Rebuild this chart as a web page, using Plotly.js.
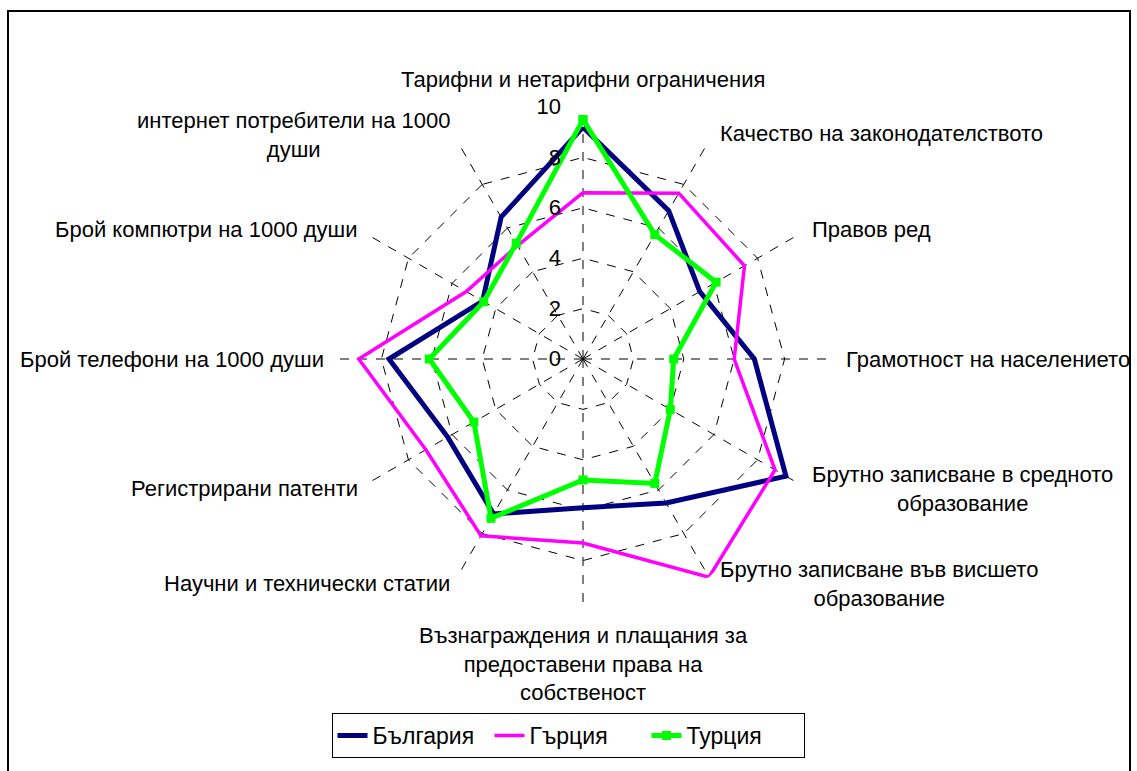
<!DOCTYPE html>
<html>
<head>
<meta charset="utf-8">
<script src="https://cdn.plot.ly/plotly-3.0.1.min.js"></script>
<style>html,body{margin:0;padding:0;background:#fff;}#chart{width:1137px;height:771px;}</style>
</head>
<body>
<div id="chart"></div>
<script>
const categories = [
  "Тарифни и нетарифни ограничения",
  "Качество на законодателството",
  "Правов ред",
  "Грамотност на населението",
  "Брутно записване в средното образование",
  "Брутно записване във висшето образование",
  "Възнаграждения и плащания за предоставени права на собственост",
  "Научни и технически статии",
  "Регистрирани патенти",
  "Брой телефони на 1000 души",
  "Брой компютри на 1000 души",
  "интернет потребители на 1000 души"
];
const tickLabels = [
  "Тарифни и нетарифни ограничения",
  "Качество на законодателството",
  "Правов ред",
  "Грамотност на населението",
  "Брутно записване в средното<br>образование",
  "Брутно записване във висшето<br>образование",
  "Възнаграждения и плащания за<br>предоставени права на<br>собственост",
  "Научни и технически статии",
  "Регистрирани патенти",
  "Брой телефони на 1000 души",
  "Брой компютри на 1000 души",
  "интернет потребители на 1000<br>души"
];
const bulgaria = [9.2, 6.8, 5.35, 6.8, 9.3, 6.6, 5.9, 7.1, 6.2, 7.7, 4.6, 6.5];
const greece   = [6.6, 7.6, 7.4, 6.0, 8.8, 10.0, 7.3, 8.1, 7.2, 8.9, 5.35, 5.2];
const turkey   = [9.5, 5.7, 6.1, 3.6, 4.0, 5.7, 4.8, 7.3, 5.0, 6.1, 4.55, 5.3];
const seriesNames = ["България", "Гърция", "Турция"];
const radialTicks = [0, 2, 4, 6, 8, 10];

const W = 1137, H = 771;
const CX = 583, CY = 359, R = 252;   // polar centre and radius in px
const close = a => a.concat([a[0]]);
const FONT = "Liberation Sans, Arial, sans-serif";

const traces = [
  {type:"scatterpolar", name:seriesNames[0], r:close(bulgaria), theta:close(categories),
   mode:"lines", line:{color:"#000080", width:5}},
  {type:"scatterpolar", name:seriesNames[1], r:close(greece), theta:close(categories),
   mode:"lines", line:{color:"#FF00FF", width:3.5}},
  {type:"scatterpolar", name:seriesNames[2], r:close(turkey), theta:close(categories),
   mode:"lines+markers", line:{color:"#00FF00", width:5},
   marker:{symbol:"square", size:9, color:"#00FF00"}}
];

// category labels placed just outside the outer ring, following the angular axis geometry
const annotations = tickLabels.map((txt, i) => {
  const a = (90 - 360 / categories.length * i) * Math.PI / 180;
  const c = Math.cos(a), s = Math.sin(a);
  const vx = CX + R * c, vy = CY - R * s;
  const ann = {text:txt, showarrow:false, xref:"paper", yref:"paper", align:"center",
               font:{family:FONT, size:22, color:"#000"}};
  let px, py;
  if (Math.abs(c) < 0.01) {
    px = vx; ann.xanchor = "center";
    if (s > 0) { py = vy - 13; ann.yanchor = "bottom"; }
    else { py = vy + 10; ann.yanchor = "top"; }
  } else if (c > 0) {
    px = vx + 9; ann.xanchor = "left"; py = vy - 8 * s; ann.yanchor = "middle";
  } else {
    px = vx - 5; ann.xanchor = "right"; py = vy - 7 * s; ann.yanchor = "middle";
  }
  ann.x = px / W; ann.y = 1 - py / H;
  return ann;
});

const layout = {
  width:W, height:H,
  margin:{l:0, r:0, t:0, b:0},
  paper_bgcolor:"#fff",
  font:{family:FONT, size:20, color:"#000"},
  showlegend:true,
  legend:{orientation:"h", x:568/W, xanchor:"center", y:1 - 713/H, yanchor:"top",
          bordercolor:"#000", borderwidth:1, font:{size:23, family:FONT},
          bgcolor:"#fff", entrywidth:112, entrywidthmode:"pixels"},
  polar:{
    domain:{x:[(CX-R)/W, (CX+R)/W], y:[(H-CY-R)/H, (H-CY+R)/H]},
    bgcolor:"#fff",
    gridshape:"linear",
    angularaxis:{type:"category", rotation:90, direction:"clockwise",
      tickmode:"array", tickvals:categories, ticktext:tickLabels, showticklabels:false,
      showline:false, ticks:"", showgrid:true, gridcolor:"#000", griddash:"dash", gridwidth:1},
    radialaxis:{range:[0,10.001], tickmode:"array", tickvals:radialTicks,
      ticktext:radialTicks.map(v => v + "\u00a0\u00a0\u00a0"),
      angle:90, tickangle:90,
      side:"counterclockwise", showline:false, ticks:"", showgrid:true,
      gridcolor:"#000", griddash:"dash", gridwidth:1,
      tickfont:{size:22, family:FONT, color:"#000"}}
  },
  annotations: annotations,
  shapes:[
    {type:"rect", xref:"paper", yref:"paper", x0:1131/W, x1:1.01, y0:-0.1, y1:1.1,
     fillcolor:"#fff", line:{width:0}, layer:"above"},
    {type:"rect", xref:"paper", yref:"paper", x0:8/W, x1:1130/W, y0:-0.05, y1:(H-11)/H,
     line:{color:"#000", width:2}, fillcolor:"rgba(0,0,0,0)", layer:"above"}
  ]
};

Plotly.newPlot("chart", traces, layout, {displayModeBar:false, staticPlot:true});
</script>
</body>
</html>
